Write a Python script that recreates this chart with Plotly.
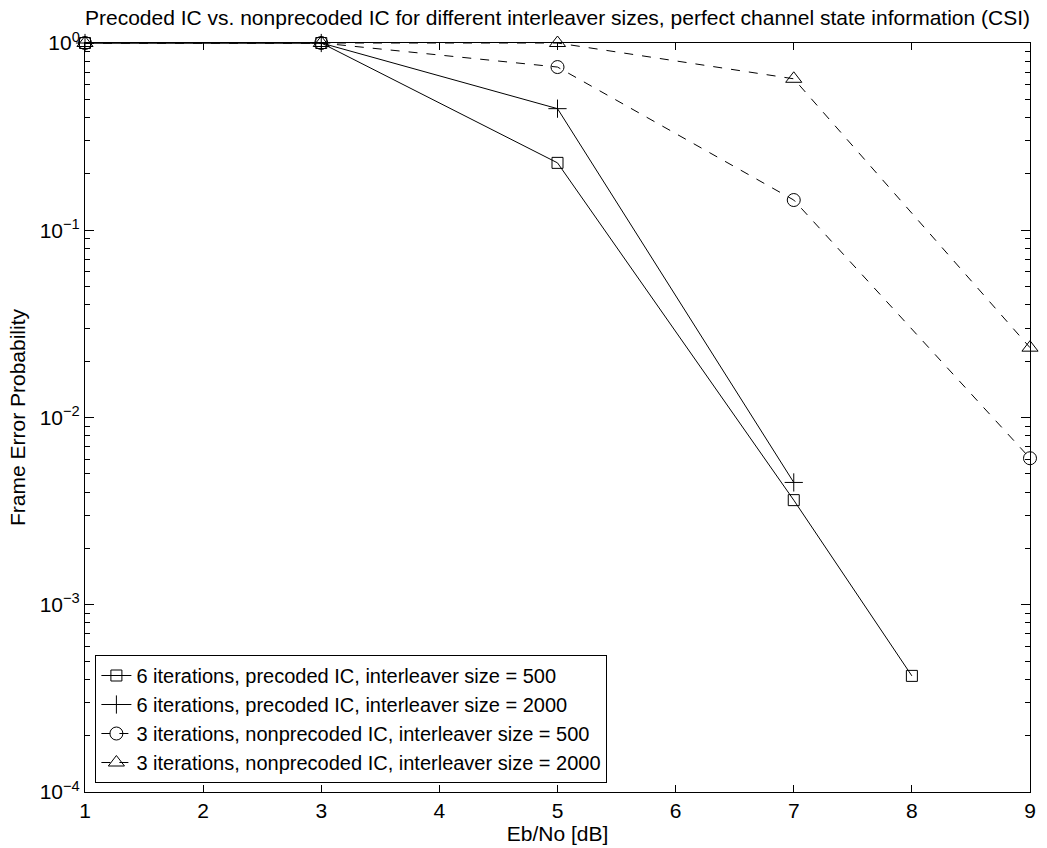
import plotly.graph_objects as go

# Eb/No grid points and frame error probabilities per configuration
ebno_sq = [1, 3, 5, 7, 8]
fep_sq = [1.0, 1.0, 0.229, 0.00362, 0.000417]

ebno_plus = [1, 3, 5, 7]
fep_plus = [1.0, 1.0, 0.446, 0.0045]

ebno_circ = [1, 3, 5, 7, 9]
fep_circ = [1.0, 1.0, 0.744, 0.145, 0.00606]

ebno_tri = [1, 3, 5, 7, 9]
fep_tri = [1.0, 1.0, 1.0, 0.644, 0.0236]

names = [
    "6 iterations, precoded IC, interleaver size = 500",
    "6 iterations, precoded IC, interleaver size = 2000",
    "3 iterations, nonprecoded IC, interleaver size = 500",
    "3 iterations, nonprecoded IC, interleaver size = 2000",
]

x_ticks = [1, 2, 3, 4, 5, 6, 7, 8, 9]
y_ticks = [1e-4, 1e-3, 1e-2, 1e-1, 1]
y_ticktext = ["10<sup>\u22124</sup>", "10<sup>\u22123</sup>", "10<sup>\u22122</sup>",
              "10<sup>\u22121</sup>", "10<sup>0</sup>"]
# minor ticks at 2..9 within each decade
y_minor = [m * 10.0 ** e for e in range(-4, 0) for m in range(2, 10)]

FONT = "Liberation Sans, Arial, sans-serif"
FS = 21

series = [
    (ebno_sq, fep_sq, names[0], "square-open", "solid", 11),
    (ebno_plus, fep_plus, names[1], "cross-thin-open", "solid", 13),
    (ebno_circ, fep_circ, names[2], "circle-open", "dash", 13),
    (ebno_tri, fep_tri, names[3], "triangle-up-open", "dash", 14),
]

fig = go.Figure()
for xs, ys, nm, sym, dash, sz in series:
    fig.add_trace(go.Scatter(
        x=xs, y=ys, name=nm, mode="lines+markers", cliponaxis=False,
        line=dict(color="black", width=1, dash=dash),
        marker=dict(symbol=sym, size=sz, color="black",
                    line=dict(color="black", width=1)),
    ))

fig.update_layout(
    width=1047, height=848,
    margin=dict(l=85, r=11, t=43, b=55),
    paper_bgcolor="white", plot_bgcolor="white",
    font=dict(family=FONT, size=FS, color="black"),
    title=dict(
        text="Precoded IC vs. nonprecoded IC for different interleaver sizes, perfect channel state information (CSI)",
        xref="paper", x=0.5, xanchor="center", y=0.979, yanchor="middle",
        font=dict(family=FONT, size=FS, color="black"),
    ),
    showlegend=True,
    legend=dict(
        x=0.011, y=0.012, xanchor="left", yanchor="bottom",
        bgcolor="white", bordercolor="black", borderwidth=1,
        font=dict(family=FONT, size=FS - 1, color="black"),
        tracegroupgap=0, itemwidth=30,
    ),
)

fig.update_xaxes(
    range=[1, 9], tickvals=x_ticks, ticktext=[str(v) for v in x_ticks],
    ticks="inside", ticklen=7, tickcolor="black", tickwidth=1,
    showline=True, linecolor="black", linewidth=1, mirror="ticks",
    showgrid=False, zeroline=False,
    title=dict(text="Eb/No [dB]", standoff=0, font=dict(family=FONT, size=FS)),
    tickfont=dict(family=FONT, size=FS),
)

fig.update_yaxes(
    type="log", range=[-4, 0],
    tickvals=y_ticks, ticktext=y_ticktext,
    ticks="inside", ticklen=9, tickcolor="black", tickwidth=1,
    minor=dict(tickmode="array", tickvals=y_minor, ticks="inside", ticklen=5,
               tickcolor="black", tickwidth=1, showgrid=False),
    showline=True, linecolor="black", linewidth=1, mirror="ticks",
    showgrid=False, zeroline=False,
    title=dict(text="Frame Error Probability", standoff=8, font=dict(family=FONT, size=FS)),
    tickfont=dict(family=FONT, size=FS),
)

fig.write_html("out.html")
